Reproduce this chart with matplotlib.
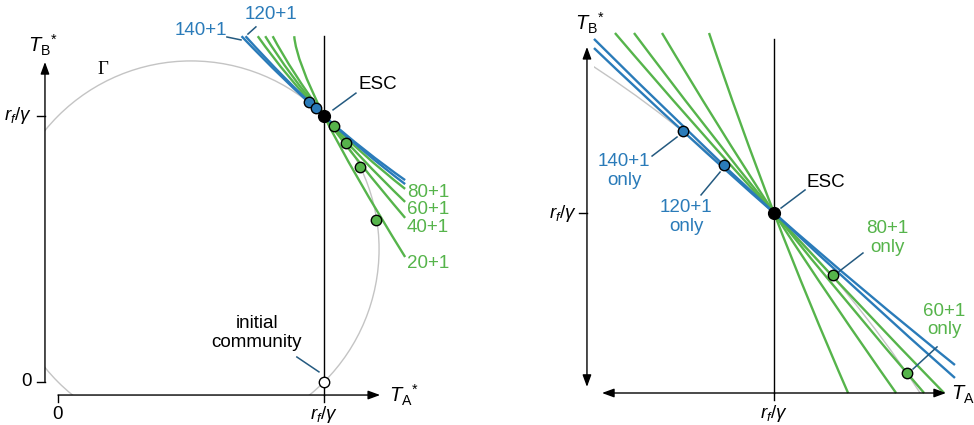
import numpy as np
import matplotlib.pyplot as plt
from matplotlib.patches import Circle, Rectangle, PathPatch
from matplotlib.path import Path

plt.rcParams['font.family'] = ['Liberation Sans', 'DejaVu Sans']
plt.rcParams['mathtext.fontset'] = 'custom'
plt.rcParams['mathtext.rm'] = 'Liberation Sans'
plt.rcParams['mathtext.it'] = 'Liberation Sans:italic'
plt.rcParams['mathtext.bf'] = 'Liberation Sans:bold'

GREEN = '#56b44b'
BLUE = '#2a7bb9'
LEADER = '#245a80'
GREY = '#c4c4c4'
FS = 13.5

# communities (both panels), positions in units of r_f/gamma
labels = ['140+1', '120+1', '80+1', '60+1', '40+1', '20+1']
is_blue = [True, True, False, False, False, False]
dot_x = [0.943, 0.969, 1.037, 1.083, 1.137, 1.195]
dot_y = [1.051, 1.030, 0.961, 0.900, 0.809, 0.609]

esc = (1.0, 1.0)
initial = (1.0, 0.0)
gamma_center = (0.5, 0.5)
gamma_radius = 0.707

# left panel: ends of each boundary curve (upper-left and lower-right)
left_start_x = [0.690, 0.705, 0.751, 0.779, 0.807, 0.888]
left_start_y = [1.300, 1.300, 1.300, 1.300, 1.300, 1.300]
left_end_x = [1.305, 1.305, 1.305, 1.305, 1.305, 1.305]
left_end_y = [0.759, 0.744, 0.726, 0.677, 0.617, 0.470]

# right panel: zoom around the ESC
right_start_x = [0.8875, 0.8875, 0.9006, 0.9125, 0.9300, 0.9594]
right_start_y = [1.1031, 1.1088, 1.1125, 1.1125, 1.1125, 1.1125]
right_end_x = [1.1131, 1.1131, 1.1063, 1.0938, 1.0763, 1.0463]
right_end_y = [0.9050, 0.8969, 0.8875, 0.8875, 0.8875, 0.8875]


def boundary(ax, p0, p2, color):
    # quadratic curve from p0 to p2 that goes through the ESC
    p1 = (2 * esc[0] - 0.5 * (p0[0] + p2[0]), 2 * esc[1] - 0.5 * (p0[1] + p2[1]))
    path = Path([p0, p1, p2], [Path.MOVETO, Path.CURVE3, Path.CURVE3])
    ax.add_patch(PathPatch(path, fill=False, edgecolor=color, lw=1.7,
                           capstyle='butt', zorder=3 if color == BLUE else 2))


def arrow(ax, start, end, style='-|>'):
    ax.annotate('', xy=end, xytext=start,
                arrowprops=dict(arrowstyle=style + ',head_length=0.6,head_width=0.22',
                                color='black', lw=1.0, shrinkA=0, shrinkB=0,
                                mutation_scale=12))


def leader(ax, a, b):
    ax.plot([a[0], b[0]], [a[1], b[1]], color=LEADER, lw=1.1, zorder=4)


def draw_dots(ax, idx):
    for i in idx:
        c = BLUE if is_blue[i] else GREEN
        ax.plot(dot_x[i], dot_y[i], 'o', ms=7.5, mfc=c, mec='black', mew=1.0, zorder=5)
    ax.plot(*esc, 'o', ms=8.5, color='black', zorder=6)


fig = plt.figure(figsize=(9.74, 4.25), dpi=100)

# ---------------- left panel ----------------
axL = fig.add_axes([0, 0, 480 / 974, 1])
axL.set_xlim(-58 / 266, 422 / 266)
axL.set_ylim(-43 / 266, 382 / 266)
axL.axis('off')

off = -0.049
circ = Circle(gamma_center, gamma_radius, fill=False, edgecolor=GREY, lw=1.0, zorder=1)
axL.add_patch(circ)
circ.set_clip_path(Rectangle((off, off), 3, 3, transform=axL.transData))

arrow(axL, (off, 0), (off, 1.203))
arrow(axL, (0, off), (1.211, off))
for t in [0, 1]:
    axL.plot([off - 0.03, off], [t, t], color='black', lw=1.0)
    axL.plot([t, t], [off, off - 0.026], color='black', lw=1.0)
axL.plot([1, 1], [off, 1.30], color='black', lw=1.0, zorder=2)

axL.text(-0.098, 1, r'$r_f/\gamma$', fontsize=FS, ha='right', va='center')
axL.text(-0.098, 0, '0', fontsize=FS, ha='right', va='center')
axL.text(0, -0.124, '0', fontsize=FS, ha='center', va='center')
axL.text(1, -0.124, r'$r_f/\gamma$', fontsize=FS, ha='center', va='center')
axL.text(-0.056, 1.267, r'$T_{\mathrm{B}}{}^{*}$', fontsize=FS + 1, ha='center', va='center')
axL.text(1.243, off, r'$T_{\mathrm{A}}{}^{*}$', fontsize=FS + 1, ha='left', va='center')
axL.text(0.169, 1.173, 'Γ', fontsize=FS, family='Liberation Serif', ha='center', va='center')

for i in range(len(labels)):
    c = BLUE if is_blue[i] else GREEN
    boundary(axL, (left_start_x[i], left_start_y[i]), (left_end_x[i], left_end_y[i]), c)

draw_dots(axL, range(len(labels)))
axL.plot(*initial, 'o', ms=7.5, mfc='white', mec='black', mew=1.0, zorder=6)

axL.text(1.128, 1.117, 'ESC', fontsize=FS, ha='left', va='center')
leader(axL, (1.034, 1.023), (1.120, 1.086))
axL.text(0.748, 0.184, 'initial\ncommunity', fontsize=FS, ha='center', va='center',
         linespacing=1.2)
leader(axL, (0.898, 0.094), (0.981, 0.038))

axL.text(0.538, 1.323, labels[0], fontsize=FS, color=BLUE, ha='center', va='center')
leader(axL, (0.635, 1.297), (0.688, 1.286))
axL.text(0.801, 1.380, labels[1], fontsize=FS, color=BLUE, ha='center', va='center')
leader(axL, (0.714, 1.308), (0.744, 1.335))
green_label_y = [0.711, 0.650, 0.579, 0.447]
for lab, y in zip(labels[2:], green_label_y):
    axL.text(1.312, y, lab, fontsize=FS, color=GREEN, ha='left', va='center')

# ---------------- right panel ----------------
axR = fig.add_axes([487 / 974, 0, 487 / 974, 1])
axR.set_xlim(1 - 287 / 1600, 1 + 200 / 1600)
axR.set_ylim(1 - 212 / 1600, 1 + 213 / 1600)
axR.axis('off')

edge = 0.8875
circ2 = Circle(gamma_center, gamma_radius, fill=False, edgecolor=GREY, lw=1.0, zorder=1)
axR.add_patch(circ2)
circ2.set_clip_path(Rectangle((edge, edge), 1, 1, transform=axR.transData))

arrow(axR, (0.8831, 0.8913), (0.8831, 1.1038), '<|-|>')
arrow(axR, (0.8925, edge), (1.1075, edge), '<|-|>')
axR.plot([0.8781, 0.8831], [1, 1], color='black', lw=1.0)
axR.plot([1, 1], [edge, edge - 0.0044], color='black', lw=1.0)
axR.plot([1, 1], [edge, 1.1088], color='black', lw=1.0, zorder=2)

axR.text(0.8769, 1, r'$r_f/\gamma$', fontsize=FS, ha='right', va='center')
axR.text(1, 0.875, r'$r_f/\gamma$', fontsize=FS, ha='center', va='center')
axR.text(0.885, 1.1188, r'$T_{\mathrm{B}}{}^{*}$', fontsize=FS + 1, ha='center', va='center')
axR.text(1.1106, edge, r'$T_{\mathrm{A}}{}^{*}$', fontsize=FS + 1, ha='left', va='center')

for i in range(len(labels)):
    c = BLUE if is_blue[i] else GREEN
    boundary(axR, (right_start_x[i], right_start_y[i]), (right_end_x[i], right_end_y[i]), c)

draw_dots(axR, range(4))

axR.text(1.0206, 1.0188, 'ESC', fontsize=FS, ha='left', va='center')
leader(axR, (1.0044, 1.0031), (1.0194, 1.0144))

only_x = [0.9063, 0.9450, 1.0706, 1.1063]
only_y = [1.0263, 0.9975, 0.9844, 0.9330]
lead_a = [(0.9238, 1.0356), (0.9544, 1.0113), (1.0394, 0.9625), (1.0869, 0.9025)]
lead_b = [(0.9394, 1.0475), (0.9663, 1.0256), (1.0556, 0.9750), (1.1019, 0.9163)]
for i in range(4):
    c = BLUE if is_blue[i] else GREEN
    axR.text(only_x[i], only_y[i], labels[i] + '\nonly', fontsize=FS, color=c,
             ha='center', va='center', linespacing=1.1)
    leader(axR, lead_a[i], lead_b[i])

fig.savefig('out.png', dpi=100)
